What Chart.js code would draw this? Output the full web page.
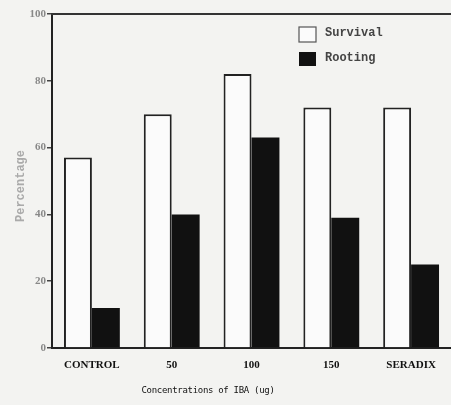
<!DOCTYPE html>
<html lang="en">
<head>
    <meta charset="UTF-8">
    <title>Survival and Rooting vs IBA</title>
    <script src="https://cdn.jsdelivr.net/npm/chart.js"></script>
    <style>
        html, body { margin: 0; padding: 0; background: #f3f3f1; }
        .chart-box { width: 451px; height: 405px; position: relative; }
    </style>
</head>
<body>
    <div class="chart-box">
        <canvas id="ibaChart"></canvas>
    </div>
    <script>
        const categories = ['CONTROL', '50', '100', '150', 'SERADIX'];
        const survival = [57, 70, 82, 72, 72];
        const rooting = [12, 40, 63, 39, 25];
        const yTicks = [0, 20, 40, 60, 80, 100];

        const ink = '#222';
        const paper = '#f3f3f1';

        // paper background, top frame line, legend and titles
        const extras = {
            id: 'extras',
            beforeDraw(chart) {
                const c = chart.ctx;
                c.save();
                c.fillStyle = paper;
                c.fillRect(0, 0, chart.width, chart.height);
                c.restore();
            },
            afterDraw(chart) {
                const c = chart.ctx;
                const area = chart.chartArea;
                c.save();
                // top frame
                c.strokeStyle = '#333';
                c.lineWidth = 2;
                c.beginPath();
                c.moveTo(area.left - 1, area.top);
                c.lineTo(area.right, area.top);
                c.stroke();

                // legend
                const ds = chart.data.datasets;
                c.font = 'bold 12px "Liberation Mono", "DejaVu Sans Mono", monospace';
                c.textBaseline = 'middle';
                ds.forEach((d, i) => {
                    const y = 27 + i * 25;
                    if (i === 0) {
                        c.fillStyle = '#fbfbfb';
                        c.fillRect(299, y, 17, 15);
                        c.strokeStyle = '#555';
                        c.lineWidth = 1.2;
                        c.strokeRect(299, y, 17, 15);
                    } else {
                        c.fillStyle = '#111';
                        c.fillRect(299, y, 17, 14);
                    }
                    c.fillStyle = '#444';
                    c.fillText(d.label, 325, y + 6);
                });

                // x title
                c.fillStyle = '#111';
                c.font = '9px "DejaVu Sans Mono", monospace';
                c.letterSpacing = '-0.3px';
                c.textAlign = 'center';
                c.textBaseline = 'middle';
                c.fillText('Concentrations of IBA (ug)', 208, 391);
                c.letterSpacing = '0px';

                // y title
                c.translate(21, 186);
                c.rotate(-Math.PI / 2);
                c.fillStyle = '#aaa';
                c.font = 'bold 12px "Liberation Mono", "DejaVu Sans Mono", monospace';
                c.fillText('Percentage', 0, 0);
                c.restore();
            }
        };

        const ctx = document.getElementById('ibaChart').getContext('2d');
        new Chart(ctx, {
            type: 'bar',
            data: {
                labels: categories,
                datasets: [{
                    label: 'Survival',
                    data: survival,
                    backgroundColor: '#fbfbfb',
                    borderColor: ink,
                    borderWidth: 2,
                    categoryPercentage: 0.7,
                    barPercentage: 1.0
                }, {
                    label: 'Rooting',
                    data: rooting,
                    backgroundColor: '#111',
                    borderWidth: 0,
                    categoryPercentage: 0.7,
                    barPercentage: 1.0
                }]
            },
            options: {
                responsive: true,
                maintainAspectRatio: false,
                animation: false,
                layout: { padding: { top: 14, right: 0, left: 0, bottom: 0 } },
                plugins: {
                    legend: { display: false },
                    tooltip: { enabled: false }
                },
                scales: {
                    x: {
                        grid: { display: false },
                        border: { display: true, color: ink, width: 2 },
                        ticks: {
                            color: '#111',
                            padding: 3,
                            maxRotation: 0,
                            font: { family: '"Liberation Serif", "DejaVu Serif", serif', size: 11, weight: 'bold' }
                        },
                        afterFit(scale) { scale.height = 57; }
                    },
                    y: {
                        min: 0,
                        max: 100,
                        afterBuildTicks(scale) { scale.ticks = yTicks.map(v => ({ value: v })); },
                        grid: { display: true, drawOnChartArea: false, drawTicks: true, tickLength: 5, color: '#444', lineWidth: 1.5 },
                        border: { display: true, color: ink, width: 2 },
                        ticks: {
                            color: '#888',
                            padding: 1,
                            font: { family: '"Liberation Serif", "DejaVu Serif", serif', size: 11, weight: 'bold' }
                        },
                        afterFit(scale) { scale.width = 52; }
                    }
                }
            },
            plugins: [extras]
        });
    </script>
</body>
</html>
